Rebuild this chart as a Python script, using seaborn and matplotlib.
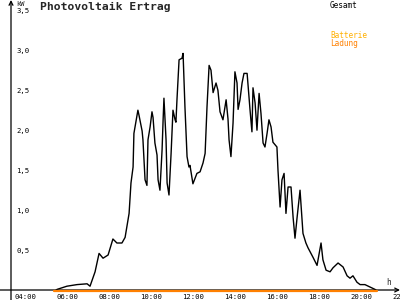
import matplotlib
matplotlib.use("Agg")
import matplotlib.pyplot as plt
import seaborn as sns
import pandas as pd

# ---- data ----
hours = [5.95, 6.05, 6.52, 7.00, 7.48, 7.62, 7.86, 8.05, 8.24, 8.48, 8.71, 8.90, 9.14, 9.29,
         9.48, 9.57, 9.67, 9.71, 9.90, 9.95, 10.10, 10.14, 10.24, 10.33, 10.38, 10.48, 10.57,
         10.62, 10.71, 10.81, 10.86, 10.95, 11.05, 11.10, 11.14, 11.24, 11.29, 11.38, 11.48,
         11.57, 11.67, 11.71, 11.76, 11.86, 12.00, 12.05, 12.14, 12.24, 12.33, 12.38, 12.52,
         12.71, 12.86, 13.00, 13.10, 13.19, 13.29, 13.38, 13.48, 13.62, 13.71, 13.81, 13.95,
         14.10, 14.19, 14.24, 14.33, 14.43, 14.52, 14.62, 14.67, 14.76, 14.86, 14.95, 15.10,
         15.24, 15.33, 15.38, 15.48, 15.57, 15.67, 15.76, 15.86, 15.95, 16.05, 16.14, 16.24,
         16.33, 16.52, 16.57, 16.67, 16.76, 16.86, 16.95, 17.05, 17.19, 17.29, 17.38, 17.48,
         17.62, 17.76, 17.90, 18.00, 18.24, 18.43, 18.62, 18.71, 18.86, 19.05, 19.19, 19.43,
         19.67, 19.86, 20.00, 20.14, 20.33, 20.48, 20.71, 20.95, 21.19, 21.29]
gesamt = [0.00, 0.02, 0.06, 0.08, 0.09, 0.06, 0.24, 0.47, 0.41, 0.45, 0.65, 0.60, 0.60, 0.67,
          0.97, 1.35, 1.55, 1.97, 2.26, 2.20, 2.00, 1.89, 1.39, 1.32, 1.89, 2.05, 2.24,
          2.17, 1.85, 1.70, 1.39, 1.26, 1.76, 2.14, 2.41, 1.89, 1.35, 1.20, 1.72,
          2.26, 2.14, 2.11, 2.39, 2.89, 2.91, 2.97, 2.30, 1.68, 1.55, 1.57, 1.34,
          1.47, 1.49, 1.60, 1.72, 2.30, 2.82, 2.76, 2.48, 2.60, 2.51, 2.24, 2.14,
          2.39, 2.15, 1.89, 1.68, 2.10, 2.74, 2.60, 2.27, 2.39, 2.60, 2.72, 2.72,
          2.26, 1.99, 2.54, 2.35, 2.01, 2.47, 2.22, 1.85, 1.80, 1.97, 2.14, 2.05,
          1.86, 1.80, 1.51, 1.05, 1.39, 1.47, 0.97, 1.30, 1.30, 0.92, 0.66, 0.92,
          1.26, 0.72, 0.60, 0.54, 0.42, 0.32, 0.60, 0.39, 0.26, 0.24, 0.29, 0.35,
          0.30, 0.19, 0.16, 0.19, 0.11, 0.08, 0.08, 0.05, 0.02, 0.00]
ladung_hours = [5.90, 21.30]
ladung = [0.0, 0.0]

xticks = [4, 6, 8, 10, 12, 14, 16, 18, 20, 22]
xticklabels = ["04:00", "06:00", "08:00", "10:00", "12:00", "14:00", "16:00", "18:00", "20:00", "22:00"]
yticks = [0.5, 1.0, 1.5, 2.0, 2.5, 3.0, 3.5]
yticklabels = ["0,5", "1,0", "1,5", "2,0", "2,5", "3,0", "3,5"]

df_g = pd.DataFrame({"h": hours, "kW": gesamt})
df_l = pd.DataFrame({"h": ladung_hours, "kW": ladung})

sns.set_style("white")
plt.rcParams["font.family"] = ["DejaVu Sans Mono", "DejaVu Sans"]

fig = plt.figure(figsize=(4, 3), dpi=100)
ax = fig.add_axes([11 / 400, 10 / 300, 389 / 400, 290 / 300])

sns.lineplot(data=df_g, x="h", y="kW", ax=ax, color="black", lw=1.0, zorder=3)
sns.lineplot(data=df_l, x="h", y="kW", ax=ax, color="#FF8000", lw=1.6, zorder=4,
             clip_on=False)

ax.set_xlim(3.857, 22.38)
ax.set_ylim(0.0125, 3.6375)
for s in ax.spines.values():
    s.set_visible(False)

# axes with arrows
ax.annotate("", xy=(1.0, 0), xytext=(-0.03, 0), xycoords="axes fraction",
            arrowprops=dict(arrowstyle="->", lw=0.9, color="black",
                            shrinkA=0, shrinkB=0, mutation_scale=7),
            annotation_clip=False, zorder=2)
ax.annotate("", xy=(0, 1.0), xytext=(0, -0.04), xycoords="axes fraction",
            arrowprops=dict(arrowstyle="->", lw=0.9, color="black",
                            shrinkA=0, shrinkB=0, mutation_scale=7),
            annotation_clip=False, zorder=2)

ax.set_xticks(xticks)
ax.set_xticklabels(xticklabels)
ax.set_yticks(yticks)
ax.set_yticklabels(yticklabels)
ax.tick_params(axis="x", direction="inout", length=5, width=0.8, pad=0.5,
               labelsize=5.2, colors="black")
ax.tick_params(axis="y", direction="inout", length=5, width=0.8, pad=-6.3,
               labelsize=5.2, colors="black")
for lbl in ax.get_yticklabels():
    lbl.set_horizontalalignment("left")
for lbl in ax.get_xticklabels():
    lbl.set_horizontalalignment("left")
ax.set_xlabel("")
ax.set_ylabel("")
ax.grid(False)

fig.text(16 / 400, 1 - 1 / 300, "kW", fontsize=5, va="top", ha="left")
fig.text(40 / 400, 1 - 2 / 300, "Photovoltaik Ertrag", fontsize=8.2, fontweight="bold",
         va="top", ha="left")
fig.text(330 / 400, 1 - 1 / 300, "Gesamt", fontsize=5.6, va="top", ha="left", color="black")
fig.text(330 / 400, 1 - 31 / 300, "Batterie", fontsize=5.6, va="top", ha="left", color="#FFB000")
fig.text(330 / 400, 1 - 39 / 300, "Ladung", fontsize=5.6, va="top", ha="left", color="#FF8000")
fig.text(386 / 400, 1 - 278 / 300, "h", fontsize=5.6, va="top", ha="left")

fig.savefig("out.png", dpi=100, facecolor="white")
